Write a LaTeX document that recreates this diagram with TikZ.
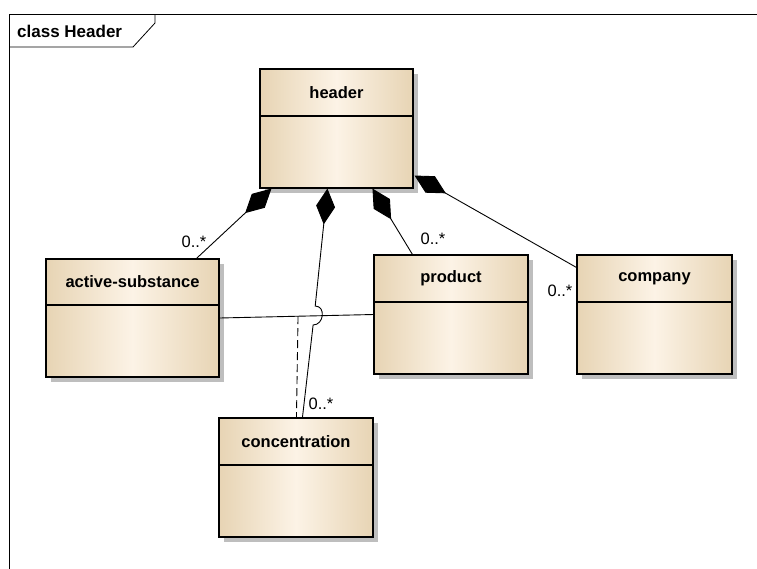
\documentclass[tikz,border=0pt]{standalone}
\usepackage{fontspec}
\setmainfont{Liberation Sans}
\usetikzlibrary{arrows.meta,calc}
\definecolor{edgetan}{RGB}{231,212,180}
\definecolor{midtan}{RGB}{252,243,230}
\definecolor{shadowgray}{RGB}{190,190,190}
\tikzset{
  diam/.tip={Diamond[length=36pt,width=19pt]},
  clsbox/.style={draw=black, line width=1.1pt, left color=edgetan, right color=edgetan, middle color=midtan, inner sep=0pt},
  clstitle/.style={font=\fontsize{16.5}{18}\selectfont\bfseries, inner sep=0pt},
  mult/.style={font=\fontsize{16.5}{18}\selectfont, inner sep=0pt},
  conn/.style={line width=0.9pt},
  comp/.style={conn, diam-},
  assocdash/.style={conn, dash pattern=on 8pt off 4pt},
}
\newcommand{\umlclass}[7]{%
  \fill[shadowgray] (#2+5,#3+5) rectangle (#4+5,#5+5);
  \node[clsbox, minimum width={#4-#2}, minimum height={#5-#3}] (#1) at ({(#2+#4)/2},{(#3+#5)/2}) {};
  \draw[line width=1.1pt] (#2,#6) -- (#4,#6);
  \node[clstitle] at ({(#2+#4)/2},{(#3+#6)/2}) {#7};
}
\begin{document}
\begin{tikzpicture}[x=1pt,y=-1pt]
\useasboundingbox (0,0) rectangle (757,568);
\fill[white] (0,0) rectangle (757,568);
% frame
\draw[line width=0.8pt] (9,575) -- (9,14) -- (765,14);
\draw[line width=0.8pt] (9,47) -- (133,47) -- (155,23) -- (155,14);
\node[font=\fontsize{17}{19}\selectfont\bfseries, anchor=west, inner sep=0pt] (frametitle) at (17,31) {class Header};
% classes
\umlclass{header}{260}{69}{413}{188}{116}{header}
\umlclass{as}{46}{259}{219}{377}{305}{active-substance}
\umlclass{pr}{374}{255}{528}{374}{302}{product}
\umlclass{co}{577}{255}{732}{374}{302}{company}
\umlclass{cn}{219}{418}{373}{537}{465}{concentration}
% association line between active-substance and product
\draw[conn] (as.east) -- (pr.west) coordinate[pos=0.51] (mid);
\draw[assocdash] (mid) -- ($(cn.north west)+(78,0)$);
% compositions
\draw[comp] ($(header.south west)+(12,0)$) -- ($(as.north west)+(151,0)$);
\draw[comp] ($(header.south west)+(113,0)$) -- ($(pr.north west)+(39,0)$);
\draw[comp] ($(header.south east)+(1,-13)$) -- ($(co.north west)+(0,13)$);
\draw[comp] ($(header.south west)+(68,0)$) -- (315.2,306)
   .. controls (326,306) and (324,325) .. (313.1,325) -- ($(cn.north west)+(84,0)$);
% multiplicities
\node[mult] (m1) at (194,242) {0..*};
\node[mult] (m2) at (433,239) {0..*};
\node[mult] (m3) at (560,291) {0..*};
\node[mult] (m4) at (321,404) {0..*};
\end{tikzpicture}
\end{document}
